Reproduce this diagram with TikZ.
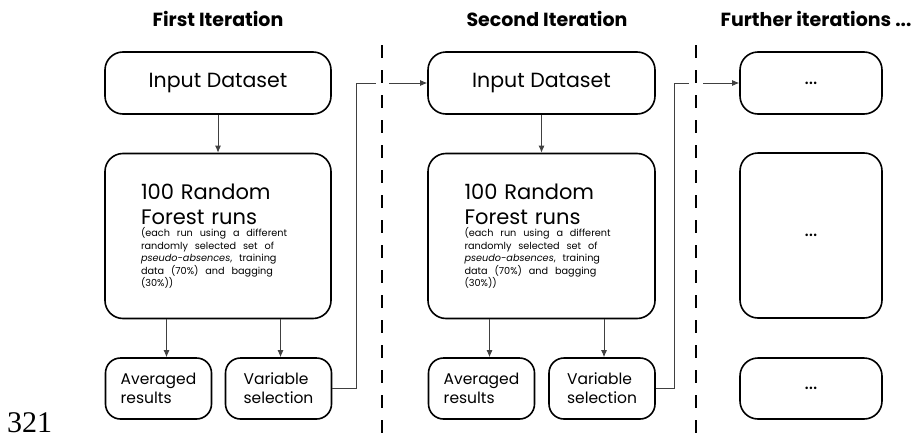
\documentclass[tikz,border=0pt]{standalone}
\usepackage{fontspec}
\setmainfont{Poppins}
\newfontfamily\pagefont{Liberation Serif}
\usetikzlibrary{arrows.meta,positioning}

\begin{document}
\begin{tikzpicture}[x=1pt,y=-1pt,>={Latex[length=7pt,width=6pt]},
		box/.style={draw, line width=1.6pt, rounded corners=18pt, align=left, inner sep=0pt,
				font=\fontsize{20.5}{24}\selectfont},
		smallbox/.style={box, rounded corners=15pt, minimum width=106, minimum height=61,
				font=\fontsize{15.5}{19}\selectfont},
		title/.style={font=\bfseries\fontsize{19}{22}\selectfont, inner sep=0pt},
		link/.style={draw=black!75, line width=0.9pt},
		sepline/.style={line width=1.6pt, dash pattern=on 13pt off 12pt}]
	\useasboundingbox (0,0) rectangle (917,439);

	% titles
	\node[title] (t1) at (218,19) {First Iteration};
	\node[title] (t2) at (547,19) {Second Iteration};
	\node[title] (t3) at (816,19) {Further iterations ...};

	% first iteration
	\node[box, minimum width=226, minimum height=62] (in1) at (218,83) {Input Dataset};
	\node[box, minimum width=226, minimum height=165, text width=154] (rf1) at (218,236) {%
		\hyphenpenalty=10000
		{\fontsize{21}{25}\selectfont 100 Random\\Forest runs\par}
		{\fontsize{9.7}{12.5}\selectfont (each run using a different\\randomly selected set of\\
				\emph{pseudo-absences}, training\\data (70\%) and bagging\\(30\%))\par}};
	\node[smallbox] (avg1) at (158.5,388.5) {Averaged\\results};
	\node[smallbox] (var1) at (278.5,388.5) {Variable\\selection};

	% second iteration
	\node[box, minimum width=227, minimum height=62] (in2) at (541.5,83) {Input Dataset};
	\node[box, minimum width=227, minimum height=165, text width=154] (rf2) at (541.5,236) {%
		\hyphenpenalty=10000
		{\fontsize{21}{25}\selectfont 100 Random\\Forest runs\par}
		{\fontsize{9.7}{12.5}\selectfont (each run using a different\\randomly selected set of\\
				\emph{pseudo-absences}, training\\data (70\%) and bagging\\(30\%))\par}};
	\node[smallbox] (avg2) at (481.5,388.5) {Averaged\\results};
	\node[smallbox] (var2) at (602,388.5) {Variable\\selection};

	% further iterations
	\node[box, minimum width=142, minimum height=62] (f1) at (811,83) {...};
	\node[box, minimum width=142, minimum height=165] (f2) at (811,235.5) {...};
	\node[box, minimum width=142, minimum height=61] (f3) at (811,388.5) {...};

	% dividers
	\coordinate (d1top) at (382,45);
	\coordinate (d1bot) at (382,439);
	\coordinate (d2top) at (696,45);
	\coordinate (d2bot) at (696,439);
	\draw[sepline] (d1top) -- (d1bot);
	\draw[sepline] (d2top) -- (d2bot);

	% arrows inside each iteration
	\draw[link, ->] (in1) -- (rf1);
	\draw[link, ->] ([xshift=8]rf1.south -| avg1.north) -- ([xshift=8]avg1.north);
	\draw[link, ->] ([xshift=2]rf1.south -| var1.north) -- ([xshift=2]var1.north);
	\draw[link, ->] (in2) -- (rf2);
	\draw[link, ->] ([xshift=8]rf2.south -| avg2.north) -- ([xshift=8]avg2.north);
	\draw[link, ->] ([xshift=2]rf2.south -| var2.north) -- ([xshift=2]var2.north);

	% feedback to the next iteration
	\coordinate (j1) at (356,83);
	\coordinate (g1a) at (376,83);
	\coordinate (g1b) at (389,83);
	\draw[link] (var1.east) -| (j1) -- (g1a);
	\draw[link, ->] (g1b) -- (in2.west);
	\coordinate (j2) at (674,83);
	\coordinate (g2a) at (689,83);
	\coordinate (g2b) at (703,83);
	\draw[link] (var2.east) -| (j2) -- (g2a);
	\draw[link, ->] (g2b) -- (f1.west);

	% page number
	\node[anchor=base west, inner sep=0pt, font=\pagefont\fontsize{30}{30}\selectfont] (pg) at (7,432) {321};
\end{tikzpicture}
\end{document}
